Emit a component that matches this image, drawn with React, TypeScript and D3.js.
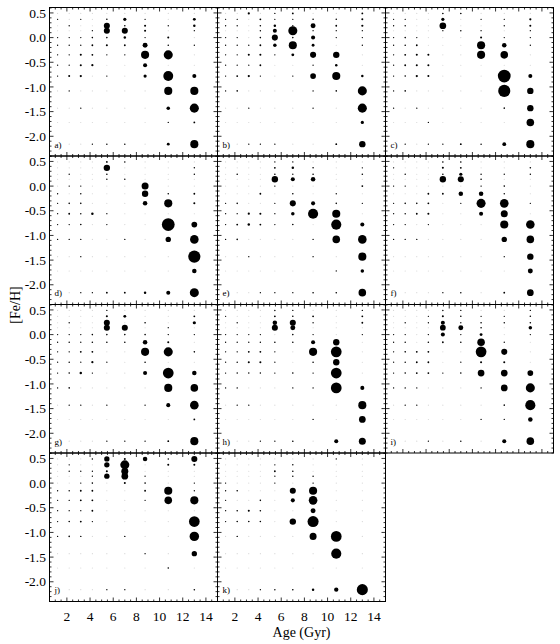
import React from 'react';
import * as d3 from 'd3';

// age bins (Gyr) and metallicity levels of the grid
const ages = [1.2, 2.2, 3.2, 4.2, 5.45, 7.0, 8.75, 10.75, 13.0];
const fehLevels = [0.49, 0.37, 0.24, 0.14, 0.0, -0.155, -0.35, -0.56, -0.78, -1.08, -1.43, -1.72, -2.16];

const xTicks = [2, 4, 6, 8, 10, 12, 14];
const yTicks = [0.5, 0.0, -0.5, -1.0, -1.5, -2.0];
const panelLabels = ['a)', 'b)', 'c)', 'd)', 'e)', 'f)', 'g)', 'h)', 'i)', 'j)', 'k)'];

// weights: one row per [Fe/H] level, one column per age bin
const panelA = [
  [0, 0, 0, 0, 0, 0, 0, 0, 0],
  [0.3, 0, 0.2, 0, 0.6, 2.5, 0.4, 0, 2],
  [0, 0.3, 0, 0, 9, 0.6, 1, 0.3, 1.5],
  [0, 0, 0, 0.4, 9, 9, 1, 0, 0.3],
  [0.2, 0.3, 0.2, 0.6, 0.6, 1.5, 0.3, 1, 0],
  [0.2, 0.3, 0.3, 0.8, 1, 0.8, 6, 0.6, 0.2],
  [0.2, 0.4, 1, 0.8, 0.3, 0.3, 16, 20, 0],
  [0.2, 0.4, 1, 1.2, 0, 0, 4, 0, 0],
  [0.3, 1, 1.2, 0, 0.2, 0, 2.5, 24, 4],
  [0, 0.4, 0, 0, 0, 0, 0, 16, 16],
  [0, 0, 0.3, 0, 0, 0, 0, 3, 20],
  [0, 0, 0, 0, 0, 0, 0, 0.1, 0.8],
  [0, 0, 0, 0.2, 0.5, 0.5, 0, 2, 16],
];

const panelB = [
  [0, 0, 1.2, 0, 0.3, 0.8, 0, 0, 0.8],
  [0.2, 0.2, 0, 0.8, 0.4, 0.4, 0.6, 0.6, 1],
  [0.2, 0.3, 0, 0.6, 1.5, 0.3, 6, 0.8, 1.2],
  [0, 0, 0, 0.5, 4, 20, 0.3, 0.2, 0.2],
  [0.2, 0.3, 0, 0.6, 9, 0.6, 4, 0.3, 0.2],
  [0.2, 0.3, 0.3, 0.8, 3, 16, 2, 0, 0.2],
  [0.2, 0.3, 1, 1, 0.2, 2, 9, 10, 0],
  [0.2, 0.2, 0.3, 0.8, 0, 0, 0.3, 1.5, 0],
  [0.2, 0.8, 1.2, 0.2, 0, 0.4, 8, 16, 1.5],
  [0.1, 0.6, 0, 0, 0, 0, 0.2, 0.6, 20],
  [0, 0, 0.4, 0, 0, 0, 0.2, 0, 20],
  [0, 0, 0, 0, 0, 0, 0, 0, 2.5],
  [0, 0, 0.3, 0.3, 0.4, 0, 0, 0.8, 10],
];

const panelC = [
  [0, 0, 0, 0, 0.6, 0.6, 0, 0, 0],
  [0.2, 0.3, 0, 0, 2.5, 0, 0.2, 0.2, 1.2],
  [0.2, 0.5, 0, 0, 11, 0, 0, 0.2, 1],
  [0, 0, 0, 0, 0.3, 0.5, 0.2, 0, 0.2],
  [0.2, 0.6, 0.2, 0, 0, 0, 1, 0.2, 0.3],
  [0.2, 0.6, 0.8, 0, 0, 0, 16, 5, 0.3],
  [0.2, 0.8, 1, 1, 0, 0, 16, 14, 0],
  [0.2, 0.8, 1, 1, 0, 0, 0, 0, 0],
  [0.2, 0.6, 1.2, 1, 0, 0, 0, 40, 4],
  [0.2, 0.6, 0, 0, 0, 0, 0, 36, 10],
  [0.2, 0, 0.3, 0, 0, 0, 0, 0.6, 10],
  [0, 0, 0, 0.3, 0, 0, 0, 0, 14],
  [0, 0.3, 0, 0.3, 0.4, 0.8, 0.5, 3.5, 16],
];

const panelD = [
  [0, 0, 0, 0, 0.8, 0.5, 0, 0, 0],
  [0, 0, 0, 0, 10, 0, 0, 0, 0.5],
  [0, 0.2, 0, 0, 0.6, 0, 0, 0, 0.5],
  [0, 0, 0, 0, 0.5, 0.5, 0, 0, 0],
  [0, 0.2, 0.2, 0, 0, 0, 12, 0, 0],
  [0.2, 0, 0.5, 0, 0, 0, 10, 0.6, 0.8],
  [0.3, 0.6, 0.6, 0, 0, 0, 5, 16, 1],
  [0.3, 0.8, 0.5, 1.5, 0.3, 0, 0, 0, 0],
  [0.2, 0.3, 0.6, 0, 0.3, 0, 0, 40, 8],
  [0.2, 0.4, 0.4, 0, 0, 0.2, 0, 7, 18],
  [0, 0, 0.2, 0, 0, 0, 0, 0, 36],
  [0, 0, 0, 0, 0, 0, 0, 0, 5],
  [0, 0, 0.2, 0.4, 0.8, 0.8, 1.5, 4, 20],
];

const panelE = [
  [0, 0, 0, 0, 0.4, 0.2, 0, 0, 0],
  [0, 0, 0, 0, 0.8, 1.5, 0.6, 0, 0.3],
  [0, 0.6, 0, 0, 0.6, 0.2, 0.6, 0, 0.6],
  [0, 0, 0, 0, 10, 4, 5, 0, 0],
  [0, 0, 0, 0, 0.5, 0, 0, 0, 0.8],
  [0, 0, 0, 0.8, 0, 0.6, 0, 0.2, 0],
  [0.2, 0.6, 0, 0, 0.2, 9, 4, 0.6, 0.2],
  [0.3, 0.4, 1.2, 1, 0.3, 3, 25, 16, 0],
  [0.3, 0.8, 1.5, 0.8, 0.3, 0.6, 0, 25, 4],
  [0.2, 0.6, 0, 0, 0, 0, 0.3, 14, 18],
  [0, 0, 0.3, 0, 0, 0, 0.2, 0, 16],
  [0, 0, 0, 0, 0, 0, 0, 0.3, 3],
  [0, 0, 0, 0.2, 0.4, 0.4, 0.6, 0.6, 14],
];

const panelF = [
  [0, 0, 0, 0, 0.6, 0.6, 0, 0, 0],
  [0.2, 0, 0, 0, 1, 0.8, 0, 0, 0.6],
  [0, 0.5, 0, 0, 0.6, 2.5, 0.5, 0.2, 0.5],
  [0, 0, 0, 0, 10, 9, 0.6, 0, 0],
  [0.2, 0.4, 0, 0, 0, 0, 0.5, 0.6, 0],
  [0, 0, 0, 0.8, 0.8, 5, 5, 0.5, 0],
  [0.2, 0.6, 0.6, 0.8, 0, 0.3, 20, 18, 0.2],
  [0.2, 0.5, 0.8, 1, 0, 0, 4, 12, 0],
  [0.2, 0.3, 0, 0.4, 0, 0, 0, 16, 18],
  [0.2, 0.4, 0.3, 0, 0, 0, 0, 7, 14],
  [0, 0, 0, 0, 0, 0, 0, 0.3, 10],
  [0, 0, 0, 0, 0, 0, 0, 0, 6],
  [0, 0, 0, 0, 0.4, 0.5, 0, 0.8, 11],
];

const panelG = [
  [0, 0, 0, 0, 0.3, 0, 0, 0, 0],
  [0, 0, 0, 0, 1, 2, 0, 0, 0.8],
  [0, 0.3, 0, 0, 9, 0, 0.6, 0, 2.5],
  [0, 0, 0, 0, 9, 9, 0, 0.2, 0],
  [0.2, 0.3, 0.3, 0.6, 0.6, 0.6, 0.6, 0.5, 0.2],
  [0.2, 0.5, 0.4, 0.6, 0.6, 0.6, 5, 1, 0],
  [0.2, 0.5, 0.8, 0.8, 0, 0, 16, 20, 0.6],
  [0.2, 0.5, 0.2, 1.2, 0.3, 0, 0.6, 0, 0],
  [0.3, 0.6, 1.5, 0.2, 0, 0, 4, 28, 5],
  [0.2, 0.6, 0, 0, 0, 0, 0, 16, 14],
  [0, 0.3, 0.3, 0, 0.2, 0, 0.3, 4, 18],
  [0, 0, 0, 0, 0, 0, 0, 0, 0.8],
  [0, 0, 0, 0, 0.3, 0.4, 0.4, 0.8, 16],
];

const panelH = [
  [0, 0, 0, 0, 0.5, 0.3, 0, 0, 0.4],
  [0.2, 0, 0, 0, 0.8, 0.6, 0.8, 0, 0.8],
  [0, 0.3, 0, 0, 5, 9, 0.2, 0, 0.8],
  [0, 0, 0, 0, 9, 6, 0, 0, 0],
  [0.2, 0.2, 0.2, 0.3, 0, 0.6, 0.4, 0, 0.2],
  [0.2, 0.3, 0.3, 0.5, 0.6, 0.6, 4, 10, 0],
  [0.2, 0.5, 0.8, 0.8, 0.3, 0, 16, 28, 0],
  [0.2, 0.5, 1, 1, 0.3, 0, 0.6, 10, 0],
  [0.3, 0.5, 0.5, 0.5, 0.2, 0.6, 0.3, 28, 0],
  [0.2, 0.5, 0, 0, 0, 0.2, 0.3, 28, 4],
  [0, 0.2, 0.3, 0, 0, 0, 0, 0, 16],
  [0, 0, 0, 0, 0, 0, 0.2, 0, 11],
  [0, 0, 0, 0.3, 0.3, 0.6, 0, 4, 12],
];

const panelI = [
  [0, 0, 0, 0, 0.5, 0.4, 0, 0, 0.3],
  [0, 0, 0, 0.3, 1, 0.6, 0.4, 0.3, 0.6],
  [0, 0.4, 0, 0.2, 4, 0.2, 0.6, 0.5, 0.6],
  [0, 0, 0, 0, 8, 6, 0.6, 0, 3],
  [0.2, 0.3, 0, 0.5, 4, 0.2, 2, 0, 0.2],
  [0.2, 0.5, 0, 0.6, 0.8, 0.6, 14, 0.3, 0],
  [0.2, 0.6, 0.8, 0.8, 0, 0, 28, 9, 0],
  [0.2, 0.5, 0.8, 0.8, 0, 0.2, 1, 1, 0],
  [0.3, 0.6, 0.8, 0.8, 0.2, 0.6, 11, 11, 8],
  [0.2, 0.5, 0.2, 0, 0, 0, 0.3, 11, 20],
  [0, 0.2, 0.2, 0, 0, 0, 0, 0.6, 25],
  [0, 0, 0, 0, 0, 0, 0.3, 0.2, 5],
  [0, 0, 0, 0.3, 0, 0.5, 0, 4, 14],
];

const panelJ = [
  [0, 0, 0, 0.5, 7, 1, 5, 0.5, 9],
  [0, 0.3, 0, 0, 7, 20, 0, 1, 1],
  [0, 0.2, 0.3, 0.3, 1, 12, 0, 0, 0],
  [0, 0, 0, 0.3, 7, 11, 0.3, 0, 0],
  [0, 0, 0.3, 0.6, 0, 1, 0.6, 0, 0.2],
  [0.2, 0.5, 0.8, 0.8, 0, 0, 0.8, 16, 0.3],
  [0.2, 0.5, 0.8, 0.8, 0, 0, 0.2, 14, 16],
  [0.2, 0.3, 0.3, 0.8, 0, 0, 0, 0, 0],
  [0.2, 0.6, 0.8, 0.4, 0, 0, 0, 0, 28],
  [0.2, 0.6, 0.5, 0, 0, 0.5, 0, 0, 22],
  [0, 0, 0, 0, 0, 0, 0.4, 0, 7],
  [0, 0, 0, 0, 0, 0, 0, 0.6, 0],
  [0, 0, 0, 0, 0.3, 0.3, 0, 0, 0.6],
];

const panelK = [
  [0, 0, 0, 0, 0, 0, 0, 0.4, 0],
  [0, 0, 0, 0, 0.3, 0.5, 0, 0, 0],
  [0, 0, 0, 0, 0.8, 0.6, 0, 0, 0],
  [0, 0, 0, 0, 0.3, 0.5, 0.5, 0, 0],
  [0.2, 0, 0, 0, 0.3, 0, 0.5, 0, 0],
  [0.2, 0.6, 0, 0, 0, 9, 16, 0, 0],
  [0.2, 0, 0, 0.6, 0, 4, 18, 0, 0],
  [0.2, 0.6, 1, 0.6, 0, 0, 6, 0, 0],
  [0.2, 0.6, 0.6, 0.6, 0, 10, 30, 0, 0],
  [0, 0.5, 0, 0, 0, 0, 12, 28, 0],
  [0, 0, 0, 0, 0, 0, 0, 25, 0],
  [0, 0, 0, 0, 0, 0, 0, 0, 0],
  [0, 0, 0, 0.4, 0.5, 0.6, 1.5, 4.5, 30],
];

const panels = [panelA, panelB, panelC, panelD, panelE, panelF, panelG, panelH, panelI, panelJ, panelK];

const FONT = 'Liberation Serif, Times New Roman, serif';
const W = 560;
const H = 644;
const left = 49.5;
const top = 7.5;
const pw = 168;
const ph = 148.5;

const x = d3.scaleLinear().domain([0.5, 15]).range([0, pw]);
const y = d3.scaleLinear().domain([-2.4, 0.61]).range([ph, 0]);
const r = d3.scaleSqrt().domain([0, 40]).range([0, 6.4]);

const xMinor = d3.range(2, 30).map(i => i / 2);
const yMinor = d3.range(-24, 7).map(i => i / 10);

const Panel = ({ data, label, col, row }) => {
  const showY = col === 0;
  const showX = row === 3;
  const cells = [];
  data.forEach((vals, i) => {
    vals.forEach((w, j) => cells.push({ feh: fehLevels[i], age: ages[j], w }));
  });
  return (
    <g transform={`translate(${left + col * pw},${top + row * ph})`}>
      {cells.map((d, k) => (
        <circle key={'b' + k} cx={x(d.age)} cy={y(d.feh)} r={0.55} fill="#d2d2d2" />
      ))}
      {cells.filter(d => d.w > 0).map((d, k) => (
        <circle key={'c' + k} cx={x(d.age)} cy={y(d.feh)} r={Math.max(0.65, r(d.w))} fill="#000" />
      ))}
      <rect x={0} y={0} width={pw} height={ph} fill="none" stroke="#000" strokeWidth={1} />
      {xMinor.map(t => {
        const len = xTicks.includes(t) ? 4 : 2;
        return (
          <g key={'xt' + t} stroke="#000" strokeWidth={0.8}>
            <line x1={x(t)} x2={x(t)} y1={ph} y2={ph - len} />
            <line x1={x(t)} x2={x(t)} y1={0} y2={len} />
          </g>
        );
      })}
      {yMinor.map(t => {
        const len = Math.abs(t * 2 - Math.round(t * 2)) < 1e-6 ? 4 : 2;
        return (
          <g key={'yt' + t} stroke="#000" strokeWidth={0.8}>
            <line x1={0} x2={len} y1={y(t)} y2={y(t)} />
            <line x1={pw} x2={pw - len} y1={y(t)} y2={y(t)} />
          </g>
        );
      })}
      {showY && yTicks.map(t => (
        <text key={'yl' + t} x={-3.5} y={y(t)} dy="0.35em" textAnchor="end"
          fontFamily={FONT} fontSize={13.5} fill="#000">{t.toFixed(1)}</text>
      ))}
      {showX && xTicks.map(t => (
        <text key={'xl' + t} x={x(t)} y={ph + 19} textAnchor="middle"
          fontFamily={FONT} fontSize={13.5} fill="#000">{t}</text>
      ))}
      <text x={5} y={ph - 8.5} fontFamily={FONT} fontSize={9} fill="#000">{label}</text>
    </g>
  );
};

export default function App() {
  return (
    <svg width={W} height={H} viewBox={`0 0 ${W} ${H}`}
      style={{ position: 'absolute', left: 0, top: 0, background: '#fff' }}>
      <rect width={W} height={H} fill="#fff" />
      {panels.map((p, i) => (
        <Panel key={i} data={p} label={panelLabels[i]} col={i % 3} row={Math.floor(i / 3)} />
      ))}
      <text transform={`translate(15,305) rotate(-90)`} textAnchor="middle" dy="0.35em"
        fontFamily={FONT} fontSize={14} fill="#000">[Fe/H]</text>
      <text x={left + 1.5 * pw} y={637} textAnchor="middle"
        fontFamily={FONT} fontSize={14} fill="#000">Age (Gyr)</text>
    </svg>
  );
}
